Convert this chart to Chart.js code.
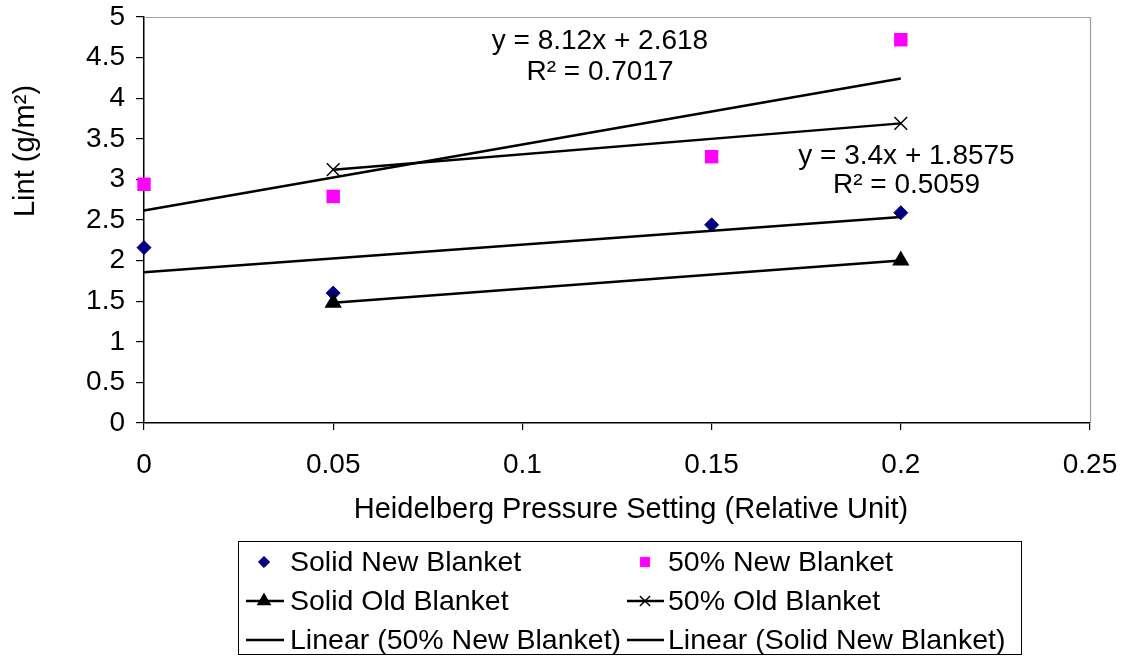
<!DOCTYPE html>
<html>
<head>
<meta charset="utf-8">
<script src="https://cdn.jsdelivr.net/npm/chart.js@4/dist/chart.umd.min.js"></script>
<style>
  html, body { margin: 0; padding: 0; background: #ffffff; }
  #wrap { width: 1127px; height: 656px; position: relative; }
</style>
</head>
<body>
<div id="wrap"><canvas id="chart" width="1127" height="656"></canvas></div>
<script>
// Heidelberg pressure setting (relative unit)
const pressureSolidNew = [0, 0.05, 0.15, 0.2];
const lintSolidNew     = [2.16, 1.60, 2.44, 2.59];

const pressure50New = [0, 0.05, 0.15, 0.2];
const lint50New     = [2.94, 2.79, 3.28, 4.72];

const pressureSolidOld = [0.05, 0.2];
const lintSolidOld     = [1.48, 2.00];

const pressure50Old = [0.05, 0.2];
const lint50Old     = [3.12, 3.69];

// Linear fits as printed on the chart: y = slope * x + intercept
const fit50New    = { slope: 8.12, intercept: 2.618, r2: '0.7017' };
const fitSolidNew = { slope: 3.4,  intercept: 1.8575, r2: '0.5059' };
const fitRange = [0, 0.2];

const xTickLabels = ['0', '0.05', '0.1', '0.15', '0.2', '0.25'];
const yTickLabels = ['0', '0.5', '1', '1.5', '2', '2.5', '3', '3.5', '4', '4.5', '5'];

const FONT = "'Liberation Sans', Arial, Helvetica, sans-serif";

function pts(xs, ys) { return xs.map((x, i) => ({ x: x, y: ys[i] })); }
function fitLine(f) { return fitRange.map(x => ({ x: x, y: f.intercept + f.slope * x })); }

const datasets = [
  { label: 'Solid New Blanket', data: pts(pressureSolidNew, lintSolidNew), showLine: false,
    pointStyle: 'rectRot', pointRadius: 7, backgroundColor: '#000080', borderColor: '#000080', borderWidth: 1, order: 2 },
  { label: '50% New Blanket', data: pts(pressure50New, lint50New), showLine: false,
    pointStyle: 'rect', pointRadius: 9.5, backgroundColor: '#ff00ff', borderColor: '#ff00ff', borderWidth: 0, order: 2 },
  { label: 'Solid Old Blanket', data: pts(pressureSolidOld, lintSolidOld), showLine: true,
    pointStyle: 'triangle', pointRadius: 7.5, backgroundColor: '#000000', borderColor: '#000000', borderWidth: 2.5, order: 1 },
  { label: '50% Old Blanket', data: pts(pressure50Old, lint50Old), showLine: true,
    pointStyle: 'crossRot', pointRadius: 9, backgroundColor: '#000000', borderColor: '#000000', borderWidth: 2.5,
    pointBorderWidth: 1.5, order: 1 },
  { label: 'Linear (50% New Blanket)', data: fitLine(fit50New), showLine: true,
    pointRadius: 0, borderColor: '#000000', borderWidth: 2.5, order: 1 },
  { label: 'Linear (Solid New Blanket)', data: fitLine(fitSolidNew), showLine: true,
    pointRadius: 0, borderColor: '#000000', borderWidth: 2.5, order: 1 }
];
datasets.forEach(ds => { ds.clip = false; });

// Gray frame on the top and right of the plot area
const framePlugin = {
  id: 'frame',
  beforeDatasetsDraw(chart) {
    const a = chart.chartArea, c = chart.ctx;
    c.save();
    c.strokeStyle = '#a0a0a0';
    c.lineWidth = 1.2;
    c.beginPath();
    c.moveTo(a.left, a.top + 0.5);
    c.lineTo(a.right + 0.5, a.top + 0.5);
    c.lineTo(a.right + 0.5, a.bottom);
    c.stroke();
    c.restore();
  }
};

// Axis titles, fit equations and the boxed two-column legend
const textPlugin = {
  id: 'texts',
  afterDraw(chart) {
    const c = chart.ctx, xs = chart.scales.x, ys = chart.scales.y;
    c.save();
    c.fillStyle = '#000000';
    c.textBaseline = 'middle';

    // x title
    c.font = '29px ' + FONT;
    c.textAlign = 'center';
    c.fillText('Heidelberg Pressure Setting (Relative Unit)', 631, 510);

    // y title
    c.save();
    c.translate(26, 151);
    c.rotate(-Math.PI / 2);
    c.fillText('Lint (g/m\u00B2)', 0, 0);
    c.restore();

    // fit equations
    c.font = '28px ' + FONT;
    const eq = (f, x, y1, y2) => {
      const b = String(f.intercept);
      c.fillText('y = ' + f.slope + 'x + ' + b, xs.getPixelForValue(x), ys.getPixelForValue(y1));
      c.fillText('R\u00B2 = ' + f.r2, xs.getPixelForValue(x), ys.getPixelForValue(y2));
    };
    eq(fit50New, 0.1205, 4.70, 4.32);
    eq(fitSolidNew, 0.2015, 3.29, 2.93);

    // legend
    const lg = { left: 238.5, top: 541.5, right: 1021.5, bottom: 654.5 };
    c.strokeStyle = '#000000';
    c.lineWidth = 1;
    c.strokeRect(lg.left, lg.top, lg.right - lg.left, lg.bottom - lg.top);
    const cols = [{ mark: 264, line0: 246, line1: 284, text: 290 },
                  { mark: 645, line0: 627, line1: 664, text: 668 }];
    const rows = [562, 601, 640];
    c.font = '28.5px ' + FONT;
    c.textAlign = 'left';
    chart.data.datasets.forEach((ds, i) => {
      const col = cols[i % 2], y = rows[Math.floor(i / 2)];
      if (ds.showLine) {
        c.strokeStyle = ds.borderColor;
        c.lineWidth = 2.5;
        c.beginPath();
        c.moveTo(col.line0, y);
        c.lineTo(col.line1, y);
        c.stroke();
      }
      if (ds.pointRadius > 0) {
        c.fillStyle = ds.backgroundColor;
        c.strokeStyle = ds.borderColor;
        c.lineWidth = ds.pointBorderWidth || ds.borderWidth || 1;
        const r = ds.pointStyle === 'rect' ? 6.5 : ds.pointRadius * 0.8;
        Chart.helpers.drawPoint(c, { pointStyle: ds.pointStyle, radius: r, borderWidth: c.lineWidth }, col.mark, y);
      }
      c.fillStyle = '#000000';
      c.fillText(ds.label, col.text, y + 1);
    });
    c.restore();
  }
};

new Chart(document.getElementById('chart'), {
  type: 'scatter',
  data: { datasets: datasets },
  plugins: [framePlugin, textPlugin],
  options: {
    responsive: false,
    animation: false,
    layout: { padding: { left: 0, top: 17, right: 37, bottom: 173 } },
    plugins: { legend: { display: false }, tooltip: { enabled: false } },
    elements: { line: { tension: 0 } },
    scales: {
      x: {
        type: 'linear', min: 0, max: 0.25,
        afterFit(s) { s.height = 60; s.paddingLeft = 0; s.paddingRight = 0; },
        afterBuildTicks(s) { s.ticks = xTickLabels.map(t => ({ value: parseFloat(t) })); },
        ticks: {
          color: '#000000', font: { family: FONT, size: 28 }, padding: 18,
          maxRotation: 0, autoSkip: false,
          callback: (v, i) => xTickLabels[i]
        },
        grid: { drawOnChartArea: false, drawTicks: true, tickLength: 7, color: '#000000', lineWidth: 1.2 },
        border: { color: '#000000', width: 1.5 }
      },
      y: {
        type: 'linear', min: 0, max: 5,
        afterFit(s) { s.width = 144; s.paddingTop = 0; s.paddingBottom = 0; },
        afterBuildTicks(s) { s.ticks = yTickLabels.map(t => ({ value: parseFloat(t) })); },
        ticks: {
          color: '#000000', font: { family: FONT, size: 28 }, padding: 11,
          autoSkip: false,
          callback: (v, i) => yTickLabels[i]
        },
        grid: { drawOnChartArea: false, drawTicks: true, tickLength: 8, color: '#000000', lineWidth: 1.2 },
        border: { color: '#000000', width: 1.5 }
      }
    }
  }
});
</script>
</body>
</html>
